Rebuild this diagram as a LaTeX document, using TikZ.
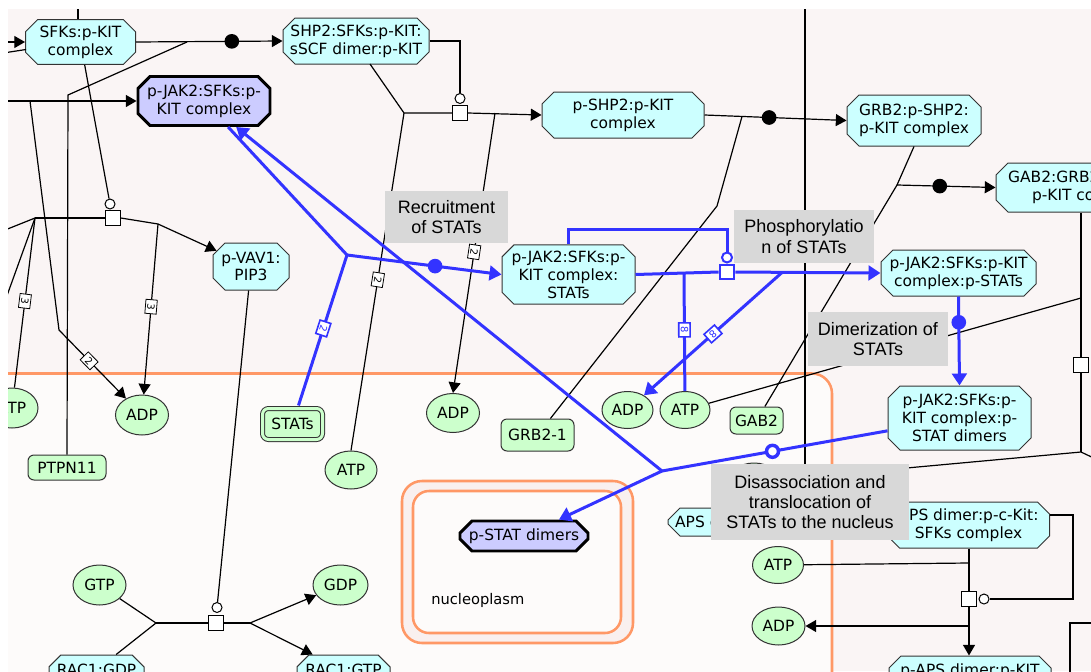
\documentclass[tikz,border=0pt]{standalone}
\usepackage{fontspec}
\setmainfont{DejaVu Sans}
\newfontfamily\lblfont{Liberation Sans}
\usetikzlibrary{arrows.meta,shapes.misc,shapes.geometric}

\definecolor{bgpink}{RGB}{250,245,245}
\definecolor{bglight}{RGB}{253,251,250}
\definecolor{memb}{RGB}{255,152,102}
\definecolor{nucring}{RGB}{249,240,239}
\definecolor{cplxfill}{RGB}{204,255,255}
\definecolor{protfill}{RGB}{204,255,204}
\definecolor{hifill}{RGB}{204,204,255}
\definecolor{lblgray}{RGB}{216,216,216}
\definecolor{rxblue}{RGB}{51,51,255}

\newcommand{\ndfont}{\fontsize{11.6}{13.4}\selectfont}

\tikzset{
  px/.style 2 args={minimum width=#1*0.75pt, minimum height=#2*0.75pt},
  cplx/.style={chamfered rectangle, chamfered rectangle xsep=4.5pt,
    chamfered rectangle ysep=4.5pt, draw=black!80, line width=0.75pt,
    fill=cplxfill, inner sep=0pt, align=center, font=\ndfont},
  hicplx/.style={cplx, fill=hifill, draw=black, line width=2.2pt},
  prot/.style={rectangle, rounded corners=4.5pt, draw=black!80, line width=0.75pt,
    fill=protfill, inner sep=0pt, align=center, font=\ndfont},
  chem/.style={ellipse, draw=black!80, line width=0.75pt, fill=protfill,
    inner sep=0pt, font=\ndfont},
  lbl/.style={rectangle, fill=lblgray, inner sep=0pt, align=center,
    font=\lblfont\fontsize{13.5}{15.2}\selectfont},
  ln/.style={draw=black, line width=0.9pt},
  bln/.style={draw=rxblue, line width=2.25pt},
  arr/.style={-{Triangle[length=8pt,width=9pt]}},
  barr/.style={-{Triangle[length=9pt,width=11pt]}},
  dotn/.style={circle, fill=black, inner sep=0pt, minimum size=11pt},
  bdotn/.style={dotn, fill=rxblue},
  modc/.style={circle, draw=black, fill=white, line width=0.75pt, inner sep=0pt, minimum size=7.5pt},
  bmodc/.style={modc, draw=rxblue, line width=1.5pt},
  sqr/.style={rectangle, draw=black, fill=white, line width=0.75pt, inner sep=0pt, minimum size=11pt},
  bsqr/.style={sqr, draw=rxblue, line width=1.5pt},
  stoich/.style={rectangle, draw=black, fill=white, line width=0.6pt, inner sep=0pt,
    minimum width=10.5pt, minimum height=8.5pt, font=\fontsize{7.5}{7.5}\selectfont,
    sloped, allow upside down},
  bstoich/.style={stoich, draw=rxblue, text=rxblue, line width=1.2pt},
  ringn/.style={circle, draw=rxblue, fill=white, line width=2.6pt, inner sep=0pt, minimum size=9pt},
}

\begin{document}
\begin{tikzpicture}[x=0.75pt, y=-0.75pt]
\fill[white] (0,0) rectangle (1091,671);
\useasboundingbox (0,0) rectangle (1091,671);
\begin{scope}
\clip (8,9) rectangle (1091,671);
\fill[bgpink] (8,9) rectangle (1091,671);

% compartments
\draw[memb, line width=1.9pt, fill=bglight, rounded corners=15pt] (-40,373.5) rectangle (832,720);
\draw[memb, line width=1.9pt, fill=nucring, rounded corners=15pt] (402,481) rectangle (633,643);
\draw[memb, line width=1.9pt, fill=bglight, rounded corners=12pt] (413,491) rectangle (621,633);
\node[anchor=west, font=\fontsize{11}{13}\selectfont, inner sep=0pt] (nucl) at (431,600) {nucleoplasm};

% complexes
\node[cplx, px={110}{43}] (sfks) at (80.5,42) {SFKs:p-KIT\\complex};
\node[cplx, px={146}{46}] (shp2) at (356,41) {SHP2:SFKs:p-KIT:\\sSCF dimer:p-KIT};
\node[hicplx, px={132}{49}] (pjak) at (204,101) {p-JAK2:SFKs:p-\\KIT complex};
\node[cplx, px={162}{46}] (pshp2) at (623,115) {p-SHP2:p-KIT\\complex};
\node[cplx, px={134}{51}] (grb2c) at (914,120.5) {GRB2:p-SHP2:\\p-KIT complex};
\node[cplx, px={182}{49}] (gab2c) at (1087,187.5) {GAB2:GRB2:p-SHP2:\\p-KIT complex};
\node[cplx, px={76}{47}] (pvav) at (251,266.5) {p-VAV1:\\PIP3};
\node[cplx, px={133}{59}] (jstat) at (568.5,274.5) {p-JAK2:SFKs:p-\\KIT complex:\\STATs};
\node[cplx, px={155}{46}] (pstats) at (958.5,273) {p-JAK2:SFKs:p-KIT\\complex:p-STATs};
\node[cplx, px={143}{64}] (dimers) at (959.5,418) {p-JAK2:SFKs:p-\\KIT complex:p-\\STAT dimers};
\node[hicplx, px={128}{30}] (pstatd) at (524,536) {p-STAT dimers};
\node[cplx, px={94}{28}] (aps2) at (715,522) {APS dimer};
\node[cplx, px={162}{46}] (apsd) at (968.5,525) {APS dimer:p-c-Kit:\\SFKs complex};
\node[cplx, px={162}{48}] (papsd) at (970,680) {p-APS dimer:p-KIT\\complex};
\node[cplx, px={95}{30}] (racgdp) at (96.5,670) {RAC1:GDP};
\node[cplx, px={93}{30}] (racgtp) at (343.5,670) {RAC1:GTP};

% proteins
\node[prot, px={60}{31}, double=protfill, double distance=2.25pt] (stats) at (292.5,424) {STATs};
\node[prot, px={78}{25}] (ptpn11) at (67,467.5) {PTPN11};
\node[prot, px={73}{32}] (grb21) at (537.5,435) {GRB2-1};
\node[prot, px={53}{27}] (gab2) at (756.5,420.5) {GAB2};

% small molecules
\node[chem, px={52}{40}] (atpL) at (12,408) {ATP};
\node[chem, px={53}{40}] (adp1) at (142,415) {ADP};
\node[chem, px={52}{38}] (atp2) at (351,470) {ATP};
\node[chem, px={53}{39}] (adp2) at (453,413) {ADP};
\node[chem, px={51}{37}] (adp3) at (627.5,410) {ADP};
\node[chem, px={50}{37}] (atp3) at (685,410) {ATP};
\node[chem, px={52}{38}] (hid) at (754,482) {};
\node[chem, px={51}{37}] (atp4) at (778,565) {ATP};
\node[chem, px={53}{38}] (adp4) at (778.5,626) {ADP};
\node[chem, px={53}{40}] (gtp) at (99.5,585) {GTP};
\node[chem, px={55}{40}] (gdp) at (340.5,585) {GDP};

% reaction glyphs
\node[modc] (c1) at (110,204) {};
\node[sqr] (s1) at (113,218) {};
\node[modc] (c2) at (460,98.5) {};
\node[sqr] (s2) at (460,113) {};
\node[sqr] (s3) at (1081,365) {};
\node[sqr] (s5) at (969,599) {};
\node[modc] (c5) at (984,599) {};
\node[modc] (c6) at (217,607.5) {};
\node[sqr] (s6) at (216,623) {};
\node[bmodc] (bc) at (727,257.5) {};
\node[bsqr] (bs) at (727,272) {};

% junctions and free ends
\coordinate (topin) at (78,0);
\coordinate (lin) at (0,42);
\coordinate (lin2) at (0,53.5);
\coordinate (lin2e) at (26,49.5);
\coordinate (lin3) at (0,101);
\coordinate (j1) at (187,42);
\coordinate (k1) at (68,95);
\coordinate (shp2b) at (370,64);
\coordinate (j2) at (404,113);
\coordinate (j3) at (495,113);
\coordinate (j4) at (742,116.5);
\coordinate (k2) at (717,206);
\coordinate (j5) at (897,185);
\coordinate (j6) at (1081,298);
\coordinate (j7) at (1081,452);
\coordinate (rout) at (1100,461);
\coordinate (vtop) at (805,0);
\coordinate (vbot) at (805,500);
\coordinate (apsr) at (1073,515);
\coordinate (j8) at (969,563);
\coordinate (j9) at (969,626);
\coordinate (brkb) at (1070,690);
\coordinate (brk) at (1070,623);
\coordinate (brkr) at (1100,623);
\coordinate (j10) at (30,101);
\coordinate (k3) at (59,330);
\coordinate (j11) at (35,218);
\coordinate (j12) at (158,224);
\coordinate (lout1) at (0,232);
\coordinate (lout2) at (0,315);
\coordinate (j13) at (156,623);
\coordinate (j14) at (250,623);
\coordinate (jb1) at (347,255);
\coordinate (jb2) at (684,273.5);
\coordinate (jb3) at (782,272.5);
\coordinate (jb4) at (662,471);
\coordinate (bt) at (727,229);

% black connectors
\draw[ln] (topin) -- (sfks.north -| topin);
\draw[ln, arr] (lin) -- (sfks.west);
\draw[ln] (lin2) -- (lin2e);
\draw[ln, arr] (sfks.east) -- (shp2.west) node[dotn, pos=0.654] (d1) {};
\draw[ln] (ptpn11.north) -- (k1) -- (j1);
\draw[ln] (shp2.east) -| (c2.north);
\draw[ln] (shp2b) -- (j2) -- (s2.west);
\draw[ln, arr] (s2.east) -- (pshp2.west);
\draw[ln] (j2) -- (atp2.north) node[stoich, pos=0.494] (st1) {2};
\draw[ln, arr] (j3) -- (adp2.north) node[stoich, pos=0.496] (st2) {2};
\draw[ln, arr] (pshp2.east) -- (grb2c.west) node[dotn, pos=0.455] (d2) {};
\draw[ln] (grb21) -- (k2) -- (j4);
\draw[ln] (grb2c.south) -- (j5);
\draw[ln, arr] (j5) -- (gab2c.west) node[dotn, pos=0.434] (d3) {};
\draw[ln] (gab2) -- (j5);
\draw[ln] (gab2c.south -| j6) -- (s3.north);
\draw[ln] (s3.south) -- (j7);
\draw[ln] (atp3) -- (j6);
\draw[ln] (hid) -- (j7) -- (rout);
\draw[ln] (vtop) -- (vbot);
\draw[ln] (apsd.east |- apsr) -- (apsr) |- (c5.east);
\draw[ln] (apsd.south -| j8) -- (s5.north);
\draw[ln] (atp4) -- (j8);
\draw[ln, arr] (s5.south) -- (papsd.north -| s5);
\draw[ln, arr] (j9) -- (adp4);
\draw[ln] (brkb) -- (brk) -- (brkr);

\draw[ln, arr] (lin3) -- (pjak.west);
\draw[ln, arr] (j10) -- (k3) -- (adp1) node[stoich, pos=0.45] (st3) {2};
\draw[ln] (sfks) -- (c1);
\draw[ln] (j11) -- (s1.west);
\draw[ln] (s1.east) -- (j12);
\draw[ln, arr] (j12) -- (pvav);
\draw[ln, arr] (j12) -- (adp1) node[stoich, pos=0.485] (st4) {3};
\draw[ln] (j11) -- (lout1);
\draw[ln] (j11) -- (lout2);
\draw[ln] (j11) -- (atpL) node[stoich, pos=0.49] (st5) {3};
\draw[ln] (pvav) -- (c6);
\draw[ln] (gtp) -- (j13);
\draw[ln] (racgdp) -- (j13);
\draw[ln] (j13) -- (s6.west);
\draw[ln] (s6.east) -- (j14);
\draw[ln, arr] (j14) -- (gdp);
\draw[ln, arr] (j14) -- (racgtp);

% blue connectors
\draw[bln] (pjak) -- (jb1);
\draw[bln, barr] (jb1) -- (jstat.west) node[bdotn, pos=0.57] (bd1) {};
\draw[bln, shorten >=2pt] (jb1) -- (stats) node[bstoich, pos=0.48] (st6) {2};
\draw[bln] (jstat.north) |- (bt) -- (bc.north);
\draw[bln] (jstat.east) -- (bs.west);
\draw[bln, barr] (bs.east) -- (pstats.west);
\draw[bln] (jb2) -- (atp3) node[bstoich, pos=0.48] (st7) {8};
\draw[bln, barr] (jb3) -- (adp3) node[bstoich, pos=0.5] (st8) {8};
\draw[bln, barr] (pstats.south) -- (dimers.north) node[bdotn, pos=0.29] (bd2) {};
\draw[bln] (dimers) -- (jb4) node[ringn, pos=0.51] (br) {};
\draw[bln, barr] (jb4) -- (pstatd);
\draw[bln, barr] (jb4) -- (pjak);

% step labels
\node[lbl, px={123}{52}] (lrec) at (446.5,217) {Recruitment\\of STATs};
\node[lbl, px={140}{53}] (lphos) at (804,236.5) {Phosphorylatio\\n of STATs};
\node[lbl, px={140}{54}] (ldim) at (878,339) {Dimerization of\\STATs};
\node[lbl, px={198}{76}] (ldis) at (810,502) {Disassociation and\\translocation of\\STATs to the nucleus};
\end{scope}
\end{tikzpicture}
\end{document}
